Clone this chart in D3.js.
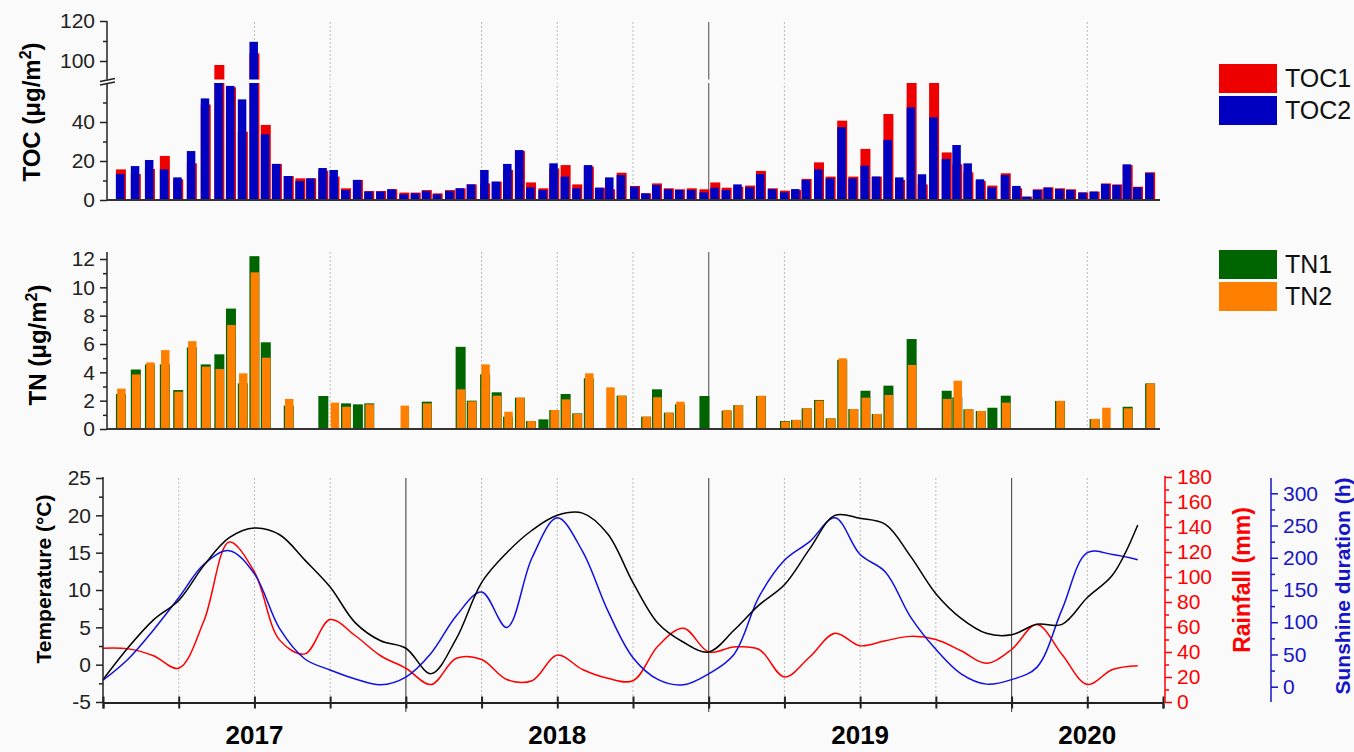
<!DOCTYPE html>
<html><head><meta charset="utf-8">
<script src="https://cdn.jsdelivr.net/npm/d3@7"></script>
<style>
body{margin:0;background:#fafafa;}
svg{display:block;font-family:"Liberation Sans",Arial,sans-serif;}
</style></head><body><svg id="c" width="1354" height="752"></svg>
<script>
// ---------- data ----------
// sampling time of each deposition sample, in months from the start of the axis
const sampleMonth = [0.71,1.30,1.86,2.45,2.98,3.52,4.07,4.61,5.07,5.54,
 6.00,6.45,6.89,7.36,7.82,8.25,8.73,9.17,9.63,10.10,
 10.55,11.02,11.46,11.94,12.39,12.83,13.26,13.75,14.17,14.61,
 15.14,15.60,16.05,16.52,16.96,17.45,17.88,18.33,18.79,19.25,
 19.69,20.09,20.55,21.08,21.52,21.95,22.42,22.86,23.33,23.83,
 24.26,24.71,25.17,25.64,26.07,26.54,27.02,27.46,27.88,28.37,
 28.83,29.29,29.73,30.21,30.66,31.12,31.58,32.04,32.48,32.93,
 33.43,33.85,34.29,34.78,35.24,35.77,36.22,36.62,37.04,37.46,
 37.92,38.36,38.84,39.29,39.74,40.19,40.60,41.01,41.49];
const toc1 = [15.7,13.3,15.9,22.6,10.6,18.8,49,98,57.8,35,
 103.8,38.5,18.5,12.3,11.1,11.1,15,12,6,10.3,
 4.6,4.6,5.5,3.8,3.8,5.1,3.4,5.1,6,8,
 8.5,9.4,15.4,25.1,9,6,16.2,17.9,8,17.1,
 6.3,5.5,14,7.2,3.4,8.5,6,5.5,6,5.5,
 9,6.3,6.8,7.4,14.9,6,4.8,5.1,10.8,19.3,
 12,40.7,12,26.2,12,44.1,10.3,62,8,62,
 24.4,18.3,14.2,9.7,7.4,13.7,6,1.7,5.5,6.5,
 6,5.5,3.9,4.3,8.5,8,17.9,6.8,14.2];
const toc2 = [13.3,17.4,20.5,15.7,11.6,25.1,52.1,62,58.5,51.6,
 109.6,33.7,18.5,12.3,9.7,11.1,16.4,15.4,5.1,10.3,
 4.3,4.3,5.5,2.9,3.4,4.6,2.9,4.6,6,8,
 15.4,9.4,18.5,25.6,6.5,5.1,18.8,12,6,17.9,
 6.3,11.6,12.8,6.8,3.4,7.7,5.5,5.1,5.1,3.9,
 6.3,5.1,8,6.5,13.3,5.6,3.9,5.6,10.3,15.7,
 11.1,37.3,11.1,17.6,12,30.8,11.6,47.5,13.2,42.4,
 21,28.2,18.8,10.6,6.5,12.8,7.2,1.7,5.1,6.3,
 5.6,5.1,3.8,4.3,8.2,7.7,18.3,6.5,13.9];
const tn1 = [2.47,4.2,4.56,4.56,2.75,5.76,4.56,5.27,8.5,3.22,
 12.2,6.12,null,1.65,null,null,2.33,null,1.81,1.74,
 1.81,null,null,null,null,1.93,null,null,5.8,2.0,
 3.86,2.59,0.87,2.21,0.56,0.68,1.34,2.47,1.1,3.58,
 null,null,2.35,null,0.87,2.8,1.15,1.74,null,2.33,
 null,1.29,1.69,null,2.33,null,0.56,0.64,1.46,2.05,
 0.75,4.87,1.41,2.7,1.06,3.06,null,6.35,null,null,
 2.7,2.24,1.39,1.27,1.5,2.35,null,null,null,null,
 1.98,null,null,0.71,null,null,1.57,null,3.22];
const tn2 = [2.85,3.85,4.7,5.57,2.63,6.2,4.4,4.23,7.34,3.93,
 11.06,5.03,null,2.12,null,null,null,1.86,1.57,null,
 1.74,null,null,1.65,null,1.81,null,null,2.8,1.95,
 4.56,2.35,1.22,2.21,0.56,null,1.34,2.09,1.06,3.93,
 null,2.94,2.35,null,0.87,2.24,1.15,1.93,null,null,
 null,1.34,1.69,null,2.35,null,0.52,0.64,1.46,2.0,
 0.75,4.99,1.41,2.21,1.06,2.4,null,4.52,null,null,
 2.12,3.41,1.39,1.27,null,1.86,null,null,null,null,
 1.98,null,null,0.71,1.5,null,1.46,null,3.22];
// monthly meteorology, months 0..41
const temperature = [-2.0,2.3,6.0,8.6,13.3,17.0,18.3,17.4,14.0,10.4,
 5.6,3.2,2.2,-1.2,3.5,11.0,15.0,18.0,20.0,20.3,
 17.5,11.0,5.5,3.0,1.7,4.6,8.0,10.7,15.5,20.0,
 19.6,18.8,14.5,9.5,6.2,4.2,4.0,5.4,5.4,9.0,
 12.0,18.7];
const rainfall = [43,42.5,37,27,65,128,104,49.5,38.5,66,
 53,37,27,14,35,34,18,17,37.5,26,
 19,17,45,59,40,44,42,20,36,55,
 45,49,52.5,50,41,31,42,62,38,14,
 26,29];
const sunshine = [10,43,88,138,190,211,175,90,43,26,
 12,3,15,52,110,147,92,200,262,210,
 118,45,11,3,20,50,140,196,225,262,
 205,178,108,58,20,4,11,30,120,208,
 205,197];
const yearLabels = ["2017","2018","2019","2020"];
const yearLabelMonth = [6,18,30,39];
const yearBoundaryMonth = [12,24,36];
const quarterMonths = d3.range(0,43,3);
const tocTicks = [0,20,40,100,120], tocMinor = [10,30,50,110];
const tnTicks = d3.range(0,13,2), tnMinor = d3.range(1,13,2);
const tempTicks = d3.range(-5,26,5), tempMinor = d3.range(-2.5,25,5);
const rainTicks = d3.range(0,181,20), rainMinor = d3.range(10,180,20);
const sunTicks = d3.range(0,301,50), sunMinor = d3.range(-25,326,50);

// ---------- drawing ----------
const svg = d3.select("#c");
const C = {red:"#ee0000", blue:"#0000c0", green:"#006400", orange:"#ff8000", axis:"#222"};
const fmt = d => String(d);
const x = d3.scaleLinear().domain([0,42]).range([103,1163]);
const yToc = d3.scaleLinear().domain([0,60,90,120]).range([200,83,81,21]);
const yTn = d3.scaleLinear().domain([0,12]).range([429,259]);
const yT = d3.scaleLinear().domain([-5,25]).range([702,478]);
const yR = d3.scaleLinear().domain([0,180]).range([702,477]);
const yS = d3.scaleLinear().domain([0,300]).range([686.7,493.3]);

function vlines(g, dotted, solid, y0, y1){
  g.selectAll(null).data(dotted).join("line")
    .attr("x1",d=>x(d)).attr("x2",d=>x(d)).attr("y1",y0).attr("y2",y1)
    .attr("stroke","#bbb").attr("stroke-width",1).attr("stroke-dasharray","2,2");
  g.selectAll(null).data(solid).join("line")
    .attr("x1",d=>x(d)).attr("x2",d=>x(d)).attr("y1",y0).attr("y2",y1)
    .attr("stroke","#666").attr("stroke-width",1.2);
}
function styleAxis(g, color){
  g.selectAll("path.domain").remove();
  g.selectAll("line").attr("stroke",color).attr("stroke-width",1.5);
  g.selectAll("text").attr("fill",color).style("font-size","21px")
    .style("font-family","'Liberation Sans',Arial,sans-serif");
}

// ===== TOC panel =====
const gTop = svg.append("g");
const bw = 10;
gTop.selectAll("rect.t1").data(sampleMonth).join("rect")
  .attr("x",(d)=>x(d)-bw/2).attr("width",bw)
  .attr("y",(d,i)=>yToc(toc1[i])).attr("height",(d,i)=>yToc(0)-yToc(toc1[i]))
  .attr("fill",C.red);
gTop.selectAll("rect.t2").data(sampleMonth).join("rect")
  .attr("x",(d)=>x(d)-bw/2).attr("width",bw-1.5)
  .attr("y",(d,i)=>yToc(toc2[i])).attr("height",(d,i)=>yToc(0)-yToc(toc2[i]))
  .attr("fill",C.blue);
// axis break gap
gTop.append("rect").attr("x",108).attr("width",1060).attr("y",79.5).attr("height",3.5).attr("fill","#fafafa");
const gGrid1 = gTop.insert("g",":first-child");
vlines(gGrid1,[6,9,15,18,21,27,39],[24],22,200);
// axis
const ax1 = gTop.append("g").attr("transform","translate(107,0)")
  .call(d3.axisLeft(yToc).tickValues(tocTicks).tickSize(7).tickPadding(5).tickFormat(fmt));
styleAxis(ax1,C.axis);
const ax1m = gTop.append("g").attr("transform","translate(107,0)")
  .call(d3.axisLeft(yToc).tickValues(tocMinor).tickSize(4).tickFormat(""));
styleAxis(ax1m,C.axis);
gTop.append("line").attr("x1",107).attr("x2",107).attr("y1",200).attr("y2",83).attr("stroke",C.axis).attr("stroke-width",1.5);
gTop.append("line").attr("x1",107).attr("x2",107).attr("y1",79.5).attr("y2",21).attr("stroke",C.axis).attr("stroke-width",1.5);
[83.5,80].forEach(yy=>{
  gTop.append("line").attr("x1",100).attr("x2",115).attr("y1",yy+1.5).attr("y2",yy-1.5)
    .attr("stroke",C.axis).attr("stroke-width",1.3);
});
gTop.append("line").attr("x1",107).attr("x2",1160).attr("y1",200).attr("y2",200).attr("stroke","#333").attr("stroke-width",2);
gTop.append("text").attr("transform","translate(40,112) rotate(-90)").attr("text-anchor","middle")
  .style("font-size","24px").style("font-weight","bold")
  .html('TOC (μg/m<tspan dy="-9" font-size="16">2</tspan><tspan dy="9">)</tspan>');

// ===== TN panel =====
const gMid = svg.append("g");
vlines(gMid,[9,15,18,21,27,39],[24],252,429);
const idx = d3.range(sampleMonth.length);
gMid.selectAll("rect.n1").data(idx.filter(i=>tn1[i]!=null)).join("rect")
  .attr("x",i=>x(sampleMonth[i])-bw/2).attr("width",bw)
  .attr("y",i=>yTn(tn1[i])).attr("height",i=>yTn(0)-yTn(tn1[i]))
  .attr("fill",C.green);
gMid.selectAll("rect.n2").data(idx.filter(i=>tn2[i]!=null)).join("rect")
  .attr("x",i=>x(sampleMonth[i])-bw/2+1.2).attr("width",bw-1.5)
  .attr("y",i=>yTn(tn2[i])).attr("height",i=>yTn(0)-yTn(tn2[i]))
  .attr("fill",C.orange);
const ax2 = gMid.append("g").attr("transform","translate(107,0)")
  .call(d3.axisLeft(yTn).tickValues(tnTicks).tickSize(7).tickPadding(5).tickFormat(fmt));
styleAxis(ax2,C.axis);
const ax2m = gMid.append("g").attr("transform","translate(107,0)")
  .call(d3.axisLeft(yTn).tickValues(tnMinor).tickSize(4).tickFormat(""));
styleAxis(ax2m,C.axis);
gMid.append("line").attr("x1",107).attr("x2",107).attr("y1",429).attr("y2",252).attr("stroke",C.axis).attr("stroke-width",1.5);
gMid.append("line").attr("x1",107).attr("x2",1160).attr("y1",429).attr("y2",429).attr("stroke","#333").attr("stroke-width",2);
gMid.append("text").attr("transform","translate(46,345) rotate(-90)").attr("text-anchor","middle")
  .style("font-size","24px").style("font-weight","bold")
  .html('TN (μg/m<tspan dy="-9" font-size="16">2</tspan><tspan dy="9">)</tspan>');

// ===== legends =====
const legs = [["TOC1",C.red,64],["TOC2",C.blue,96],["TN1",C.green,250],["TN2",C.orange,282]];
legs.forEach(([t,c,yy])=>{
  svg.append("rect").attr("x",1219).attr("y",yy).attr("width",58).attr("height",29).attr("fill",c);
  svg.append("text").attr("x",1285).attr("y",yy+23).text(t).style("font-size","25px").attr("fill","#111");
});

// ===== meteorology panel =====
const gBot = svg.append("g");
vlines(gBot,[3,6,9,15,18,21,27,30,33,39],[],478,702);
gBot.selectAll(null).data(yearBoundaryMonth).join("line")
  .attr("x1",d=>x(d)).attr("x2",d=>x(d)).attr("y1",478).attr("y2",712)
  .attr("stroke","#555").attr("stroke-width",1.2);
const months = d3.range(42);
const line = (ys,sc)=>d3.line().x((d,i)=>x(months[i])).y(d=>sc(d)).curve(d3.curveCatmullRom.alpha(0.5))(ys);
gBot.append("path").attr("d",line(rainfall,yR)).attr("fill","none").attr("stroke","#ff0000").attr("stroke-width",1.5);
gBot.append("path").attr("d",line(sunshine,yS)).attr("fill","none").attr("stroke","#1010e0").attr("stroke-width",1.5);
gBot.append("path").attr("d",line(temperature,yT)).attr("fill","none").attr("stroke","#000").attr("stroke-width",1.5);
// left axis
const ax3 = gBot.append("g").attr("transform","translate(103,0)")
  .call(d3.axisLeft(yT).tickValues(tempTicks).tickSize(7).tickPadding(5).tickFormat(fmt));
styleAxis(ax3,C.axis);
const ax3m = gBot.append("g").attr("transform","translate(103,0)")
  .call(d3.axisLeft(yT).tickValues(tempMinor).tickSize(4).tickFormat(""));
styleAxis(ax3m,C.axis);
gBot.append("line").attr("x1",103).attr("x2",103).attr("y1",702).attr("y2",477).attr("stroke",C.axis).attr("stroke-width",1.5);
// bottom axis
const ax4 = gBot.append("g").attr("transform","translate(0,702.5)")
  .call(d3.axisBottom(x).tickValues(quarterMonths).tickSize(6).tickFormat(""));
ax4.select("path.domain").attr("stroke","#222").attr("stroke-width",2);
ax4.selectAll(".tick line").attr("y1",-6).attr("y2",6).attr("stroke","#222").attr("stroke-width",2);
gBot.selectAll(null).data(yearLabels).join("text")
  .attr("x",(d,i)=>x(yearLabelMonth[i])).attr("y",744).attr("text-anchor","middle")
  .style("font-size","26px").style("font-weight","bold").text(d=>d);
gBot.append("text").attr("transform","translate(51,579) rotate(-90)").attr("text-anchor","middle")
  .style("font-size","21px").style("font-weight","bold").text("Temperature (°C)");
// rainfall axis
const ax5 = gBot.append("g").attr("transform","translate(1165,0)")
  .call(d3.axisRight(yR).tickValues(rainTicks).tickSize(7).tickPadding(5).tickFormat(fmt));
styleAxis(ax5,"#ff0000");
const ax5m = gBot.append("g").attr("transform","translate(1165,0)")
  .call(d3.axisRight(yR).tickValues(rainMinor).tickSize(4).tickFormat(""));
styleAxis(ax5m,"#ff0000");
gBot.append("line").attr("x1",1165).attr("x2",1165).attr("y1",702).attr("y2",476).attr("stroke","#ff0000").attr("stroke-width",1.5);
gBot.append("text").attr("transform","translate(1250,580) rotate(-90)").attr("text-anchor","middle")
  .attr("fill","#ff0000").style("font-size","23px").style("font-weight","bold").text("Rainfall (mm)");
// sunshine axis
const ax6 = gBot.append("g").attr("transform","translate(1271,0)")
  .call(d3.axisRight(yS).tickValues(sunTicks).tickSize(7).tickPadding(5).tickFormat(fmt));
styleAxis(ax6,"#1515c8");
const ax6m = gBot.append("g").attr("transform","translate(1271,0)")
  .call(d3.axisRight(yS).tickValues(sunMinor.filter(v=>yS(v)<=702&&yS(v)>=478)).tickSize(4).tickFormat(""));
styleAxis(ax6m,"#1515c8");
gBot.append("line").attr("x1",1271).attr("x2",1271).attr("y1",702).attr("y2",478).attr("stroke","#1515c8").attr("stroke-width",1.5);
gBot.append("text").attr("transform","translate(1350,586) rotate(-90)").attr("text-anchor","middle")
  .attr("fill","#1515c8").style("font-size","21px").style("font-weight","bold").text("Sunshine duration (h)");
</script></body></html>
